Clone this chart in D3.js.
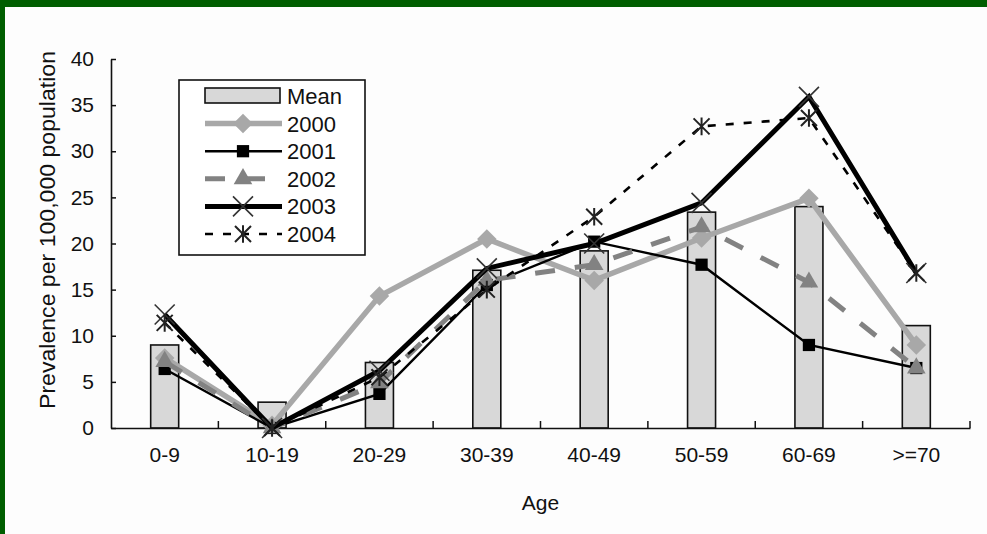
<!DOCTYPE html>
<html><head><meta charset="utf-8">
<script src="https://cdn.jsdelivr.net/npm/d3@7"></script>
<style>
html,body{margin:0;padding:0;background:#fdfdfd;}
svg{display:block;}
text{font-family:"Liberation Sans",Arial,sans-serif;fill:#111;}
</style></head>
<body>
<svg id="c" width="987" height="534"></svg>
<script>
const categories = ["0-9","10-19","20-29","30-39","40-49","50-59","60-69",">=70"];
const meanValues = [9.0, 2.8, 7.1, 17.1, 19.2, 23.4, 24.0, 11.1];
const s2000 = [7.6, 0.3, 14.3, 20.5, 16.0, 20.6, 24.9, 9.0];
const s2001 = [6.4, 0.0, 3.7, 15.5, 20.2, 17.7, 9.0, 6.5];
const s2002 = [7.2, 0.0, 4.9, 16.0, 17.7, 21.8, 15.8, 6.5];
const s2003 = [12.3, 0.0, 6.2, 17.3, 20.0, 24.4, 35.9, 16.8];
const s2004 = [11.4, 0.0, 5.5, 15.0, 22.9, 32.7, 33.6, 16.8];
const yTicks = [0,5,10,15,20,25,30,35,40];
const seriesNames = ["2000","2001","2002","2003","2004"];

const svg = d3.select("#c");
// green frame
svg.append("rect").attr("x",0).attr("y",0).attr("width",987).attr("height",7).attr("fill","#005e00");
svg.append("rect").attr("x",0).attr("y",0).attr("width",5).attr("height",534).attr("fill","#005e00");

const x = d3.scaleBand().domain(categories).range([111,970]).padding(0);
const y = d3.scaleLinear().domain([0,40]).range([428,59]);
const cx = c => x(c) + x.bandwidth()/2;

// bars
svg.append("g").selectAll("rect").data(meanValues).join("rect")
  .attr("x",(d,i)=>cx(categories[i])-14).attr("width",28)
  .attr("y",d=>y(d)).attr("height",d=>y(0)-y(d))
  .attr("fill","#d8d8d8").attr("stroke","#111").attr("stroke-width",1.6);

// y axis
const ya = svg.append("g").attr("transform",`translate(${x.range()[0]},0)`)
  .call(d3.axisLeft(y).tickValues(yTicks).tickSizeInner(-5).tickSizeOuter(0).tickPadding(17));
ya.select(".domain").attr("stroke","#111").attr("stroke-width",1.6);
ya.selectAll(".tick line").attr("stroke","#111").attr("stroke-width",1.5);
ya.selectAll(".tick text").attr("font-size",21).attr("font-family","Liberation Sans, Arial, sans-serif").attr("fill","#111");

// x axis
const xa = svg.append("g").attr("transform",`translate(0,${y(0)})`)
  .call(d3.axisBottom(x).tickSize(0).tickPadding(19));
xa.select(".domain").attr("stroke","#111").attr("stroke-width",1.6);
xa.selectAll(".tick text").attr("font-size",21).attr("font-family","Liberation Sans, Arial, sans-serif").attr("fill","#111");
const bounds = categories.map(c=>x(c)).concat([x.range()[1]]).slice(1);
svg.append("g").selectAll("line").data(bounds).join("line")
  .attr("x1",d=>d).attr("x2",d=>d).attr("y1",y(0)).attr("y2",y(0)-7)
  .attr("stroke","#111").attr("stroke-width",1.5);

// axis titles
svg.append("text").attr("x",(x.range()[0]+x.range()[1])/2).attr("y",510)
  .attr("text-anchor","middle").attr("font-size",21).text("Age");
svg.append("text").attr("transform",`translate(55,230) rotate(-90)`)
  .attr("text-anchor","middle").attr("font-size",22)
  .attr("textLength",358).attr("lengthAdjust","spacingAndGlyphs")
  .text("Prevalence per 100,000 population");

// series styles
const styles = {
  "2000":{data:s2000,color:"#a8a8a8",w:5.5,dash:null,marker:"diamond",mcolor:"#a8a8a8"},
  "2001":{data:s2001,color:"#000",w:2.4,dash:null,marker:"square",mcolor:"#000"},
  "2002":{data:s2002,color:"#828282",w:5,dash:"20,20",marker:"triangle",mcolor:"#828282"},
  "2003":{data:s2003,color:"#000",w:5,dash:null,marker:"x",mcolor:"#333"},
  "2004":{data:s2004,color:"#000",w:2.6,dash:"8,10",marker:"asterisk",mcolor:"#222"}
};
function drawMarker(g, type, col){
  if(type==="diamond"){
    g.append("path").attr("d",d3.symbol(d3.symbolSquare,190)()).attr("transform","rotate(45)").attr("fill",col);
  } else if(type==="square"){
    g.append("path").attr("d",d3.symbol(d3.symbolSquare,150)()).attr("fill",col);
  } else if(type==="triangle"){
    g.append("path").attr("d",d3.symbol(d3.symbolTriangle,150)()).attr("fill",col);
  } else if(type==="x"){
    const r=10;
    g.append("path").attr("d",`M${-r},${-r}L${r},${r}M${-r},${r}L${r},${-r}`).attr("stroke",col).attr("stroke-width",1.6).attr("fill","none");
  } else if(type==="asterisk"){
    const r=8;
    g.append("path").attr("d",`M${-r},${-r}L${r},${r}M${-r},${r}L${r},${-r}M0,${-r*1.1}L0,${r*1.1}`).attr("stroke",col).attr("stroke-width",2).attr("fill","none");
  }
}
const line = d3.line().x((d,i)=>cx(categories[i])).y(d=>y(d));
seriesNames.forEach(n=>{
  const s = styles[n];
  svg.append("path").datum(s.data).attr("d",line).attr("fill","none")
    .attr("stroke",s.color).attr("stroke-width",s.w).attr("stroke-dasharray",s.dash)
    .attr("stroke-linejoin","miter");
  s.data.forEach((v,i)=>{
    const g = svg.append("g").attr("transform",`translate(${cx(categories[i])},${y(v)})`);
    drawMarker(g, s.marker, s.mcolor);
  });
});

// legend
const lg = svg.append("g");
lg.append("rect").attr("x",179).attr("y",80).attr("width",186).attr("height",175)
  .attr("fill","#fff").attr("stroke","#111").attr("stroke-width",1.6);
const rowY = i => 96 + i*27.6;
lg.append("rect").attr("x",205).attr("y",rowY(0)-8).attr("width",75).attr("height",15)
  .attr("fill","#d8d8d8").attr("stroke","#111").attr("stroke-width",1.6);
lg.append("text").attr("x",287).attr("y",rowY(0)+8).attr("font-size",22).text("Mean");
seriesNames.forEach((n,k)=>{
  const s = styles[n], yy = rowY(k+1);
  lg.append("line").attr("x1",205).attr("x2",282).attr("y1",yy).attr("y2",yy)
    .attr("stroke",s.color).attr("stroke-width",s.w).attr("stroke-dasharray",s.dash);
  drawMarker(lg.append("g").attr("transform",`translate(243,${yy})`), s.marker, s.mcolor);
  lg.append("text").attr("x",287).attr("y",yy+8).attr("font-size",22).text(n);
});
</script>
</body></html>
